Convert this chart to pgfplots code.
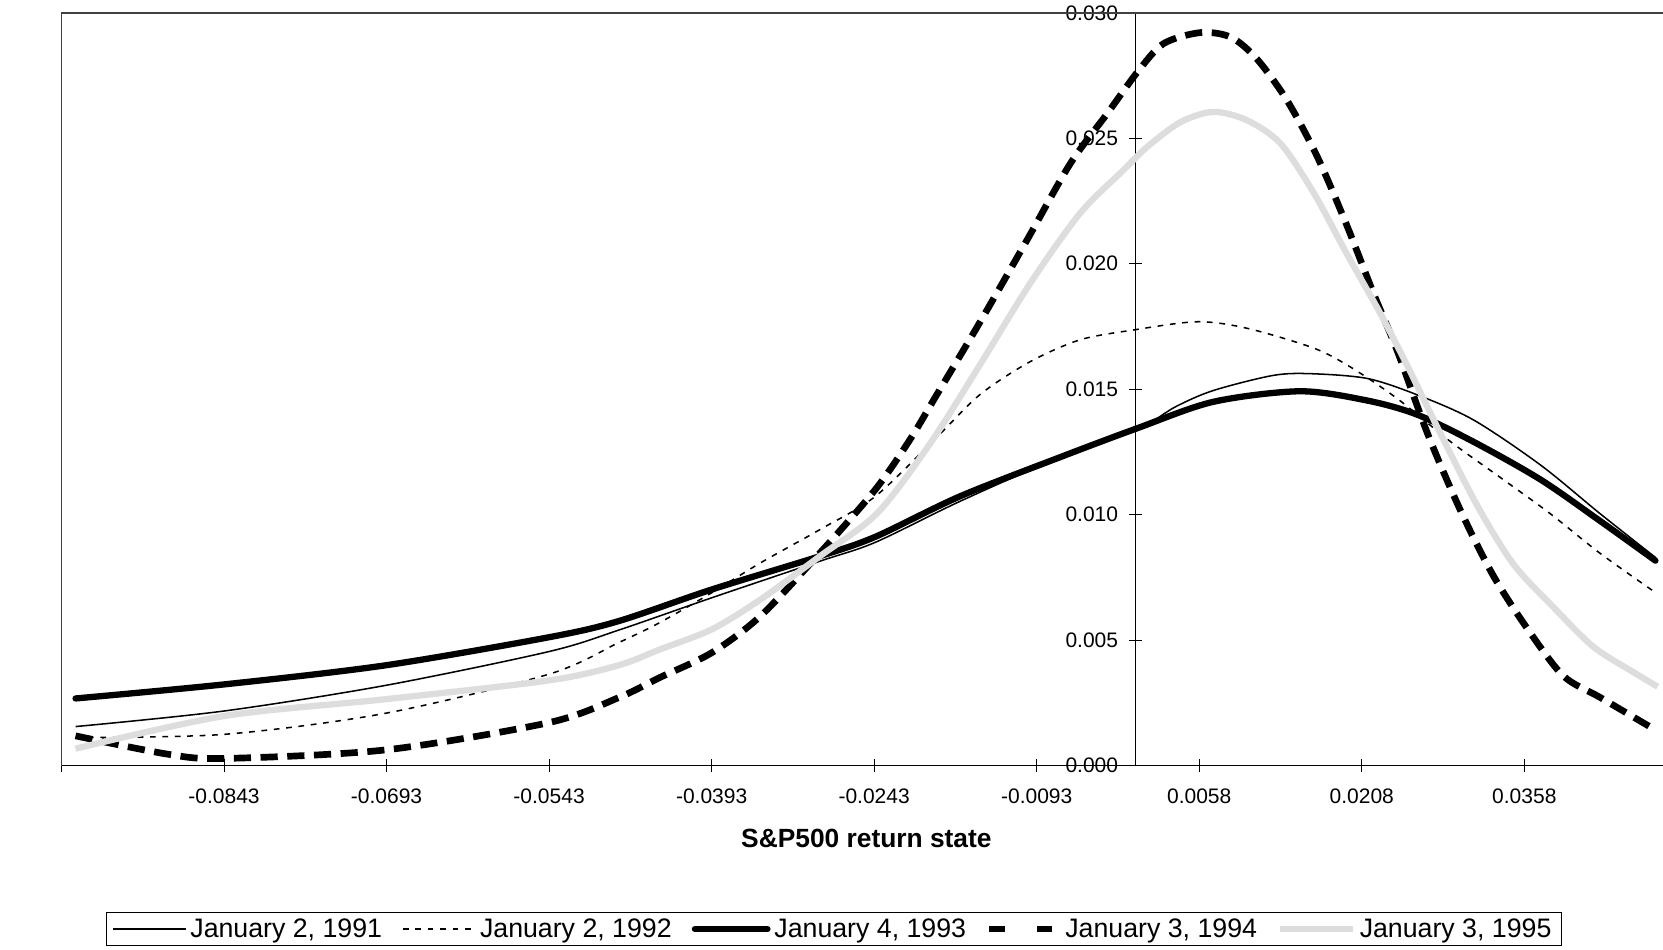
\documentclass[border=0pt]{standalone}
\usepackage{fontspec}
\setmainfont{Liberation Sans}
\usepackage{pgfplots}
\pgfplotsset{compat=1.18}
\definecolor{lightgrey}{RGB}{221,221,221}
\definecolor{framegrey}{RGB}{64,64,64}

\pgfplotstableread{
x y
-0.0980 0.00156
-0.0843 0.00218
-0.0694 0.00320
-0.0543 0.00455
-0.0479 0.00540
-0.0393 0.00669
-0.0293 0.00815
-0.0242 0.00890
-0.0164 0.01053
-0.0071 0.01230
0.0000 0.01340
0.0035 0.01430
0.0070 0.01495
0.0125 0.01555
0.0160 0.01562
0.0212 0.01543
0.0258 0.01478
0.0310 0.01378
0.0372 0.01198
0.0427 0.01004
0.0478 0.00830
}\janone

\pgfplotstableread{
x y
-0.0980 0.00113
-0.0843 0.00125
-0.0694 0.00209
-0.0543 0.00365
-0.0479 0.00490
-0.0441 0.00570
-0.0393 0.00689
-0.0348 0.00808
-0.0293 0.00941
-0.0242 0.01073
-0.0185 0.01310
-0.0145 0.01480
-0.0099 0.01610
-0.0053 0.01697
-0.0004 0.01736
0.0055 0.01769
0.0101 0.01743
0.0162 0.01665
0.0196 0.01590
0.0240 0.01462
0.0289 0.01291
0.0335 0.01148
0.0381 0.01004
0.0427 0.00846
0.0478 0.00690
}\jantwo

\pgfplotstableread{
x y
-0.0980 0.00268
-0.0843 0.00324
-0.0694 0.00400
-0.0543 0.00512
-0.0479 0.00576
-0.0393 0.00702
-0.0293 0.00835
-0.0242 0.00912
-0.0164 0.01073
-0.0071 0.01230
0.0000 0.01345
0.0070 0.01450
0.0150 0.01492
0.0212 0.01455
0.0258 0.01399
0.0310 0.01291
0.0372 0.01140
0.0427 0.00975
0.0478 0.00817
}\janthree

\pgfplotstableread{
x y
-0.0980 0.00119
-0.0895 0.00046
-0.0843 0.00029
-0.0694 0.00063
-0.0543 0.00172
-0.0479 0.00271
-0.0441 0.00351
-0.0393 0.00450
-0.0348 0.00596
-0.0293 0.00848
-0.0242 0.01100
-0.0210 0.01299
-0.0188 0.01458
-0.0145 0.01770
-0.0102 0.02094
-0.0062 0.02399
-0.0028 0.02598
0.0000 0.02764
0.0024 0.02877
0.0058 0.02921
0.0086 0.02903
0.0110 0.02817
0.0138 0.02651
0.0166 0.02426
0.0193 0.02155
0.0218 0.01880
0.0240 0.01650
0.0268 0.01320
0.0298 0.01018
0.0328 0.00760
0.0360 0.00545
0.0393 0.00358
0.0427 0.00272
0.0475 0.00150
}\janfour

\pgfplotstableread{
x y
-0.0980 0.00068
-0.0843 0.00198
-0.0694 0.00265
-0.0543 0.00340
-0.0479 0.00400
-0.0441 0.00463
-0.0393 0.00543
-0.0348 0.00662
-0.0293 0.00835
-0.0240 0.01007
-0.0191 0.01286
-0.0145 0.01600
-0.0099 0.01922
-0.0053 0.02201
-0.0013 0.02373
0.0009 0.02466
0.0040 0.02565
0.0070 0.02605
0.0101 0.02572
0.0132 0.02479
0.0163 0.02280
0.0193 0.02041
0.0224 0.01803
0.0249 0.01594
0.0280 0.01320
0.0314 0.01033
0.0347 0.00803
0.0384 0.00631
0.0421 0.00473
0.0458 0.00372
0.0480 0.00315
}\janfive

\begin{document}
\begin{tikzpicture}
\useasboundingbox (-32.2pt,-96.1pt) rectangle (838.9pt,401.1pt);
% y axis: Excel draws it where the return state crosses zero
\begin{axis}[
    at={(562.5pt,0pt)}, anchor=south west,
    scale only axis,
    width=276.4pt, height=394.4pt,
    xmin=0, xmax=1, ymin=0, ymax=0.030,
    axis x line=none, axis y line=left,
    axis line style={-, black, line width=0.6pt},
    ytick={0,0.005,0.010,0.015,0.020,0.025,0.030},
    yticklabels={0.000,0.005,0.010,0.015,0.020,0.025,0.030},
    scaled y ticks=false,
    tick align=center, major tick length=7pt,
    tick style={black, line width=0.5pt},
    yticklabel style={font=\fontsize{11}{13}\selectfont, xshift=-2pt},
]
\end{axis}
\begin{axis}[
    at={(0pt,0pt)}, anchor=south west,
    scale only axis,
    width=838.9pt, height=394.4pt,
    xmin=-0.0993, xmax=0.0485,
    ymin=0, ymax=0.030,
    axis x line=bottom, axis y line=none,
    axis line style={-, black, line width=0.6pt},
    xtick={-0.0993,-0.0843,-0.0693,-0.0543,-0.0393,-0.0243,-0.0093,0.0057,0.0207,0.0357},
    xticklabels={,-0.0843,-0.0693,-0.0543,-0.0393,-0.0243,-0.0093,0.0058,0.0208,0.0358},
    scaled x ticks=false,
    tick align=center, major tick length=7pt,
    tick style={black, line width=0.5pt},
    xticklabel style={font=\fontsize{11}{13}\selectfont, yshift=-5pt},
    every axis x label/.style={at={(axis description cs:0.5026,-0.0971)}, anchor=center},
    every axis y label/.style={at={(axis description cs:-0.0238,0.4775)}, rotate=90, anchor=center},
    label style={font=\bfseries\fontsize{13.8}{15}\selectfont},
    xlabel={S\&P500 return state},
    ylabel={State price},
    legend columns=5,
    legend cell align=left,
    legend image code/.code={\draw[#1] (0pt,0pt) -- (38pt,0pt);},
    legend style={at={(axis description cs:0.4823,-0.217)}, anchor=center,
        draw=black, line width=0.5pt, font=\fontsize{14}{15}\selectfont,
        inner xsep=3pt, inner ysep=1pt,
        /tikz/every even column/.append style={column sep=8.5pt}},
    clip=false,
]
\draw[framegrey, line width=0.8pt] (rel axis cs:0,0) -- (rel axis cs:0,1) -- (rel axis cs:1,1);

\addplot[black, line width=0.8pt, smooth] table {\janone};
\addlegendentry{January 2, 1991}
\addplot[black, line width=0.8pt, smooth, dash pattern=on 3pt off 3.5pt] table {\jantwo};
\addlegendentry{January 2, 1992}
\addplot[black, line width=3.3pt, smooth, line cap=round] table {\janthree};
\addlegendentry{January 4, 1993}
\addplot[black, line width=3.5pt, smooth, dash pattern=on 9pt off 5pt,
    legend image code/.code={\draw[black, line width=3.5pt, dash pattern=on 8pt off 17pt] (0pt,0pt) -- (36pt,0pt);}] table {\janfour};
\addlegendentry{January 3, 1994}
\addplot[lightgrey, line width=3.3pt, smooth] table {\janfive};
\addlegendentry{January 3, 1995}
\end{axis}
\end{tikzpicture}
\end{document}
